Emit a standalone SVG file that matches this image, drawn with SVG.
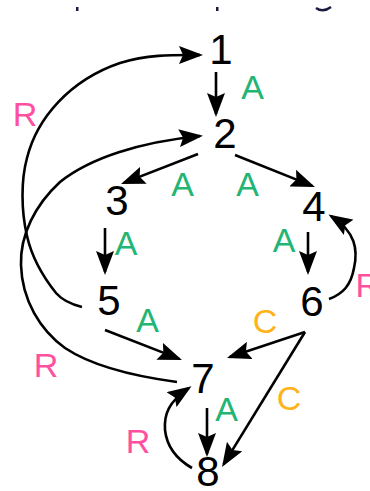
<svg xmlns="http://www.w3.org/2000/svg" width="370" height="491" viewBox="0 0 370 491">
<style>
.node{font-family:"Liberation Sans",Arial,sans-serif;font-size:42px;fill:#000;text-anchor:middle}
.lbl{font-family:"Liberation Sans",Arial,sans-serif;font-size:34px;text-anchor:middle}
.a{fill:#22b573}.r{fill:#ff4fa0}.c{fill:#ffb21a}
.e{fill:none;stroke:#000;stroke-width:2.6;marker-end:url(#ah)}
</style>
<defs>
<marker id="ah" markerUnits="userSpaceOnUse" viewBox="0 0 24 18" refX="21" refY="9" markerWidth="24" markerHeight="18" orient="auto">
<path d="M0,0 L24,9 L0,18 L4,9 z" fill="#000"/>
</marker>
</defs>
<rect width="370" height="491" fill="#fff"/>
<g id="fragments" fill="#1a1a40">
<rect x="76" y="7" width="2.5" height="4"/>
<rect x="216" y="7" width="2.5" height="4"/>
<path d="M316,8 Q323,13 331,7" fill="none" stroke="#1a1a40" stroke-width="2.5"/>
</g>
<g id="connectors">
<path class="e" d="M216,72 L216,114"/>
<path class="e" d="M198,154 L123.8,182.9"/>
<path class="e" d="M235,155 L312.2,185.9"/>
<path class="e" d="M105,228 L105,272"/>
<path class="e" d="M308,232 L308,272"/>
<path class="e" d="M105,330 L179.2,358.9"/>
<path class="e" d="M305,332 L229.8,357"/>
<path class="e" d="M305,332 L223.6,464.4"/>
<path class="e" d="M207,408 L207,454"/>
<path class="e" d="M82,307 C70,304 62,300 56,293 C44,278 32,258 27,236 C21,210 21,180 27,158 C37,118 70,80 120,63 C150,54 175,55 200,55"/>
<path class="e" d="M177,382 C140,377 95,368 65,348 C40,330 22,300 21,265 C20,235 35,205 60,182 C90,158 140,142 200,136"/>
<path class="e" d="M329,299 C343,294 351,285 354,268 C358,250 356,232 331,216"/>
<path class="e" d="M192,468 C178,460 167,448 165,430 C164,415 168,402 189,388"/>
</g>
<g id="n1"><text class="node" x="221" y="64">1</text></g>
<g id="n2"><text class="node" x="225" y="148">2</text></g>
<g id="n3"><text class="node" x="117" y="215">3</text></g>
<g id="n4"><text class="node" x="314" y="221">4</text></g>
<g id="n5"><text class="node" x="109" y="315">5</text></g>
<g id="n6"><text class="node" x="312" y="316">6</text></g>
<g id="n7"><text class="node" x="203" y="393">7</text></g>
<g id="n8"><text class="node" x="208" y="486">8</text></g>
<g id="labels">
<text class="lbl a" x="252.5" y="99">A</text>
<text class="lbl a" x="182.5" y="196">A</text>
<text class="lbl a" x="247.5" y="196">A</text>
<text class="lbl a" x="126" y="255">A</text>
<text class="lbl a" x="284" y="252">A</text>
<text class="lbl a" x="147.5" y="332">A</text>
<text class="lbl a" x="226.5" y="421">A</text>
<text class="lbl r" x="25" y="126">R</text>
<text class="lbl r" x="355.5" y="297" style="text-anchor:start">R</text>
<text class="lbl r" x="46" y="377">R</text>
<text class="lbl r" x="138" y="453">R</text>
<text class="lbl c" x="265" y="333">C</text>
<text class="lbl c" x="289" y="410">C</text>
</g>
</svg>
